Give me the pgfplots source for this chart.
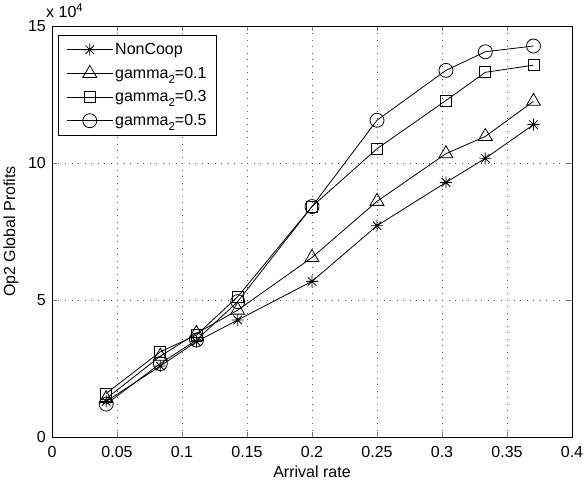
\documentclass[border=0pt]{standalone}
\usepackage{fontspec}
\setmainfont{Liberation Sans}
\usepackage{pgfplots}
\pgfplotsset{compat=1.18}
\newcommand{\sub}[1]{\raisebox{-5pt}{\fontsize{11.5}{12}\selectfont #1}}
\pgfdeclareplotmark{mstar}{%
  \pgfpathmoveto{\pgfqpoint{-\pgfplotmarksize}{0pt}}\pgfpathlineto{\pgfqpoint{\pgfplotmarksize}{0pt}}%
  \pgfpathmoveto{\pgfqpoint{0pt}{-\pgfplotmarksize}}\pgfpathlineto{\pgfqpoint{0pt}{\pgfplotmarksize}}%
  \pgfpathmoveto{\pgfqpoint{-0.707\pgfplotmarksize}{-0.707\pgfplotmarksize}}\pgfpathlineto{\pgfqpoint{0.707\pgfplotmarksize}{0.707\pgfplotmarksize}}%
  \pgfpathmoveto{\pgfqpoint{-0.707\pgfplotmarksize}{0.707\pgfplotmarksize}}\pgfpathlineto{\pgfqpoint{0.707\pgfplotmarksize}{-0.707\pgfplotmarksize}}%
  \pgfusepathqstroke}
\begin{document}
\begin{tikzpicture}
\begin{axis}[
  scale only axis, width=520pt, height=411pt,
  at={(0,0)}, anchor=south west,
  xmin=0, xmax=0.4, ymin=0, ymax=150000,
  xtick={0,0.05,...,0.4},
  xticklabels={0,0.05,0.1,0.15,0.2,0.25,0.3,0.35,0.4},
  ytick={0,50000,100000,150000},
  scaled y ticks=base 10:-4,
  ytick scale label code/.code={x 10\textsuperscript{4}},
  every y tick scale label/.style={at={(0,1)}, anchor=south west, inner sep=0pt, yshift=8pt, font=\fontsize{16}{18}\selectfont},
  /pgf/number format/assume math mode=true,
  tick label style={font=\fontsize{16}{18}\selectfont},
  label style={font=\fontsize{16}{18}\selectfont},
  xlabel={Arrival rate}, ylabel={Op2 Global Profits},
  xlabel style={at={(axis description cs:0.5,-0.0852)}, anchor=center},
  ylabel style={at={(axis description cs:-0.0788,0.5)}, anchor=center},
  xticklabel style={anchor=center, inner sep=0pt, yshift=-15pt},
  yticklabel style={anchor=east, inner sep=0pt, xshift=-6pt},
  tick align=inside, major tick length=5pt,
  xtick pos=both, ytick pos=both,
  axis line style={line width=0.9pt},
  grid=major, major grid style={dash pattern=on 0.8pt off 5.7pt, line width=0.9pt, black!65},
  legend style={at={(0,1)}, anchor=north west, xshift=6pt, yshift=-9pt,
    draw=black, line width=0.8pt, font=\fontsize{16}{18}\selectfont,
    row sep=7pt, inner xsep=8pt, inner ysep=6pt, cells={anchor=west}},
  legend image code/.code={\draw[mark repeat=2,mark phase=2,#1] plot coordinates {(0pt,0pt)(23pt,0pt)(46pt,0pt)};},
  every axis plot/.append style={black, line width=0.8pt, mark options={solid}},
]
\addplot[mark=mstar, mark size=6pt] coordinates {
 (0.04167,13000) (0.08333,25900) (0.11111,34800) (0.14286,42700) (0.2,56800)
 (0.25,77100) (0.30303,92900) (0.33333,101700) (0.37037,114000)};
\addlegendentry{NonCoop}
\addplot[mark=triangle, mark size=8pt] coordinates {
 (0.04167,14000) (0.08333,29500) (0.11111,37800) (0.14286,46300) (0.2,65500)
 (0.25,86000) (0.30303,103400) (0.33333,109700) (0.37037,122500)};
\addlegendentry{gamma\sub{2}=0.1}
\addplot[mark=square, mark size=5.5pt] coordinates {
 (0.04167,15900) (0.08333,31100) (0.11111,37200) (0.14286,51200) (0.2,84100)
 (0.25,105200) (0.30303,122800) (0.33333,133100) (0.37037,135700)};
\addlegendentry{gamma\sub{2}=0.3}
\addplot[mark=o, mark size=7pt] coordinates {
 (0.04167,12000) (0.08333,26800) (0.11111,35400) (0.14286,49400) (0.2,84100)
 (0.25,115600) (0.30303,133800) (0.33333,140600) (0.37037,142700)};
\addlegendentry{gamma\sub{2}=0.5}
\end{axis}
\pgfresetboundingbox
\path[use as bounding box] (-52pt,-47pt) rectangle (533pt,437pt);
\end{tikzpicture}
\end{document}
